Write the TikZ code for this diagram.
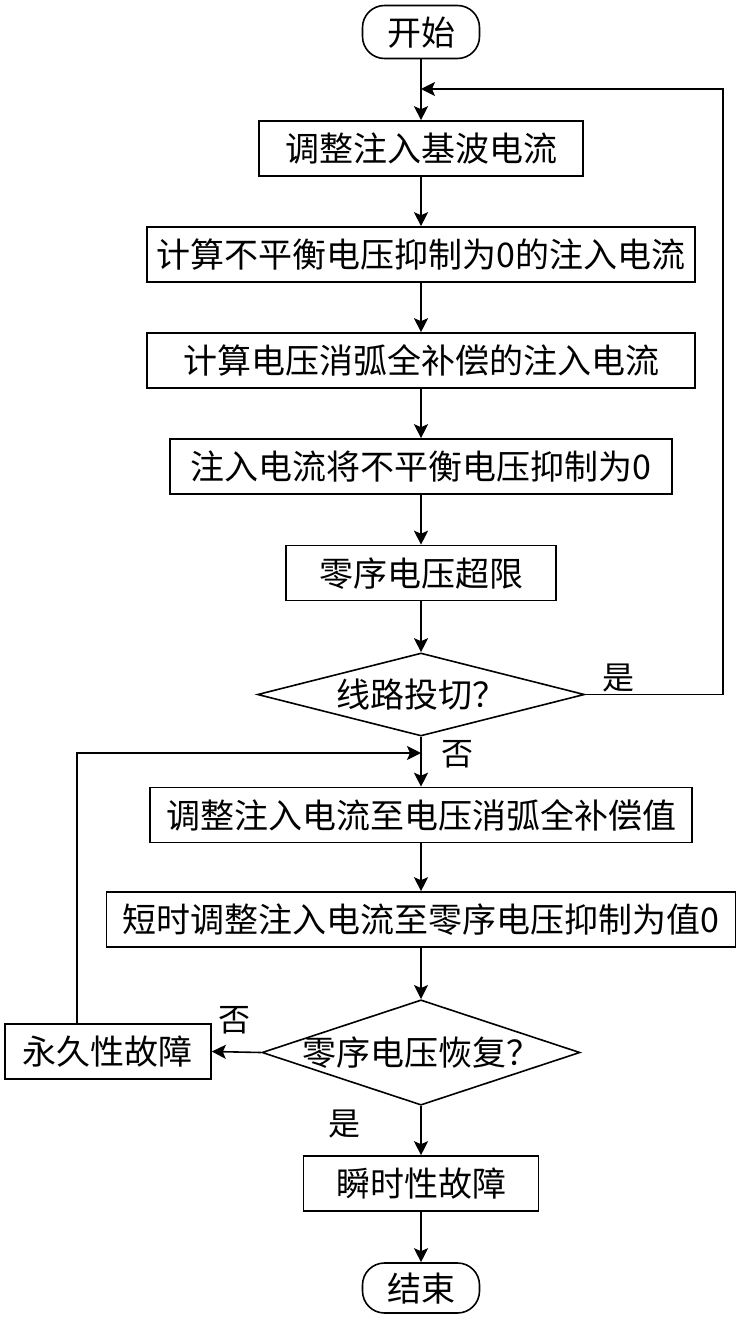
\documentclass[tikz,border=0pt]{standalone}
\usepackage{fontspec}
\setmainfont{Noto Sans CJK SC}
\usetikzlibrary{arrows.meta,shapes.geometric}

\begin{document}
\begin{tikzpicture}[x=1pt,y=-1pt,>={Stealth[length=14pt,width=14pt,inset=3pt]},line width=1.6pt,
  every node/.style={font=\fontsize{34pt}{40pt}\selectfont,inner sep=0pt,text height=26pt,text depth=0pt},
  box/.style={draw,minimum height=55pt},
  term/.style={draw,rounded corners=22pt,minimum width=117pt,minimum height=53pt},
  decide/.style={draw,diamond,aspect=3},
  lbl/.style={font=\fontsize{32pt}{38pt}\selectfont}]
\useasboundingbox (0,0) rectangle (739,1317);
% main column
\node[term] (start) at (421,32) {开始};
\node[box,minimum width=324pt] (adjbase) at (421,148.5) {调整注入基波电流};
\node[box,minimum width=548pt] (calczero) at (421,254.5) {计算不平衡电压抑制为0的注入电流};
\node[box,minimum width=548pt] (calcfull) at (421,360.5) {计算电压消弧全补偿的注入电流};
\node[box,minimum width=502pt] (inject) at (421,466.5) {注入电流将不平衡电压抑制为0};
\node[box,minimum width=270pt] (overlim) at (421,573) {零序电压超限};
\node[decide,minimum width=327pt,minimum height=83pt] (switch) at (421,694.5) {线路投切？};
\node[box,minimum width=542pt] (adjfull) at (421,815) {调整注入电流至电压消弧全补偿值};
\node[box,minimum width=629pt] (adjshort) at (421,919.5) {短时调整注入电流至零序电压抑制为值0};
\node[decide,minimum width=318pt,minimum height=105pt] (recover) at (421,1052.5) {零序电压恢复？};
\node[box,minimum width=206pt] (perm) at (108,1051.5) {永久性故障};
\node[box,minimum width=235pt] (trans) at (421,1183.5) {瞬时性故障};
\node[term,minimum height=50pt] (stop) at (421,1288) {结束};
% branch labels
\node[lbl] (yes1) at (618,676) {是};
\node[lbl] (no1) at (457,752) {否};
\node[lbl] (no2) at (234,1018) {否};
\node[lbl] (yes2) at (344,1122) {是};
% loop corners
\coordinate (backin) at (421,89);
\coordinate (backr) at (723,89);
\coordinate (retin) at (421,753);
\coordinate (retl) at (77,753);
% connectors
\draw[->] (start.south) -- (adjbase.north);
\draw[->] (adjbase.south) -- (calczero.north);
\draw[->] (calczero.south) -- (calcfull.north);
\draw[->] (calcfull.south) -- (inject.north);
\draw[->] (inject.south) -- (overlim.north);
\draw[->] (overlim.south) -- (switch.north);
\draw[->] (switch.east) -| (backr) -- (backin);
\draw[->] (switch.south) -- (adjfull.north);
\draw[->] (adjfull.south) -- (adjshort.north);
\draw[->] (adjshort.south) -- (recover.north);
\draw[->] (recover.west) -- (perm.east);
\draw[->] (perm.north -| retl) |- (retin);
\draw[->] (recover.south) -- (trans.north);
\draw[->] (trans.south) -- (stop.north);
\end{tikzpicture}
\end{document}
